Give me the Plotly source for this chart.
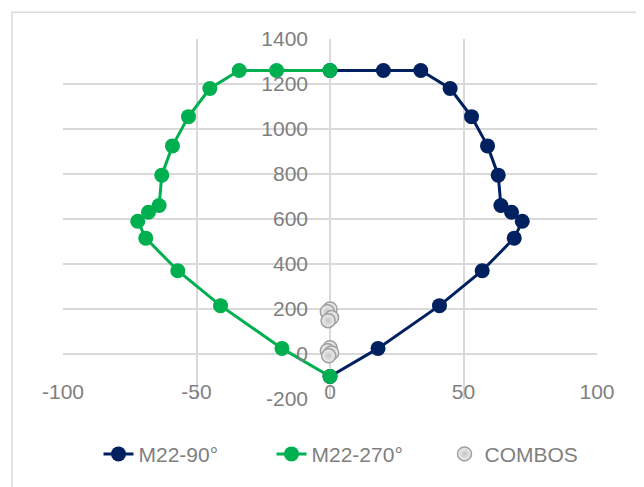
import plotly.graph_objects as go

# Data
m90_x = [0, 18, 41, 57, 69, 72, 68, 64, 63, 59, 53, 45, 34, 20, 0]
m90_y = [-100, 25, 215, 370, 515, 590, 630, 660, 795, 925, 1055, 1180, 1260, 1260, 1260]
m270_x = [0, -18, -41, -57, -69, -72, -68, -64, -63, -59, -53, -45, -34, -20, 0]
m270_y = [-100, 25, 215, 370, 515, 590, 630, 660, 795, 925, 1055, 1180, 1260, 1260, 1260]
combos_x = [0.0, -1.0, 0.6, -0.7, 0.0, -1.0, 0.6, -0.5]
combos_y = [200, 188, 162, 148, 28, 15, 5, -8]

x_ticks = [-100, -50, 0, 50, 100]
x_tick_labels = ["-100", "-50", "0", "50", "100"]
y_ticks = [-200, 0, 200, 400, 600, 800, 1000, 1200, 1400]
y_tick_labels = ["-200", "0", "200", "400", "600", "800", "1000", "1200", "1400"]

NAVY = "#002060"
GREEN = "#00B050"
GRID = "#d9d9d9"
TXT = "#7f7f7f"
FONT = "Liberation Sans"

fig = go.Figure()
fig.add_trace(go.Scatter(
    x=m90_x, y=m90_y, mode="lines+markers", name="M22-90°",
    line=dict(color=NAVY, width=3),
    marker=dict(color=NAVY, size=15),
))
fig.add_trace(go.Scatter(
    x=m270_x, y=m270_y, mode="lines+markers", name="M22-270°",
    line=dict(color=GREEN, width=3),
    marker=dict(color=GREEN, size=15),
))
fig.add_trace(go.Scatter(
    x=combos_x, y=combos_y, mode="markers", name="COMBOS",
    marker=dict(color="#f0f0f0", size=14,
                gradient=dict(type="radial", color="#c4c4c4"),
                line=dict(color="#a0a0a0", width=1.5)),
))

# page body has an 8px margin
W, H = 636, 479
L, R, T, B = 55, 47, 31, 83
pw = W - L - R
ph = H - T - B

fig.update_layout(
    width=W, height=H,
    margin=dict(l=L, r=R, t=T, b=B, pad=0),
    paper_bgcolor="white", plot_bgcolor="white",
    font=dict(family=FONT, size=21, color=TXT),
    showlegend=True,
    legend=dict(orientation="h", x=0.5 + 28 / pw, xanchor="center",
                y=(ph - (452 - T)) / ph, yanchor="middle",
                font=dict(family=FONT, size=21, color=TXT),
                entrywidth=128, tracegroupgap=0),
    xaxis=dict(range=[-100, 100], tickvals=x_ticks, ticktext=x_tick_labels,
               showgrid=True, gridcolor=GRID, gridwidth=1.5, zeroline=False,
               showline=False, ticks="", anchor="free",
               position=(-100 + 200) / 1600,
               tickfont=dict(family=FONT, size=21, color=TXT)),
    yaxis=dict(range=[-200, 1400], tickvals=y_ticks, ticktext=y_tick_labels,
               showgrid=True, gridcolor=GRID, gridwidth=1.5, zeroline=False,
               showline=False, ticks="", anchor="free", position=0.5,
               ticklabelstandoff=22,
               tickfont=dict(family=FONT, size=21, color=TXT)),
    shapes=[dict(type="rect", xref="paper", yref="paper",
                 x0=(4 - L) / pw, x1=2.0,
                 y0=-2.0, y1=(H - B - 4) / ph,
                 line=dict(color=GRID, width=1.5), layer="below")],
)

fig.write_html("out.html")
